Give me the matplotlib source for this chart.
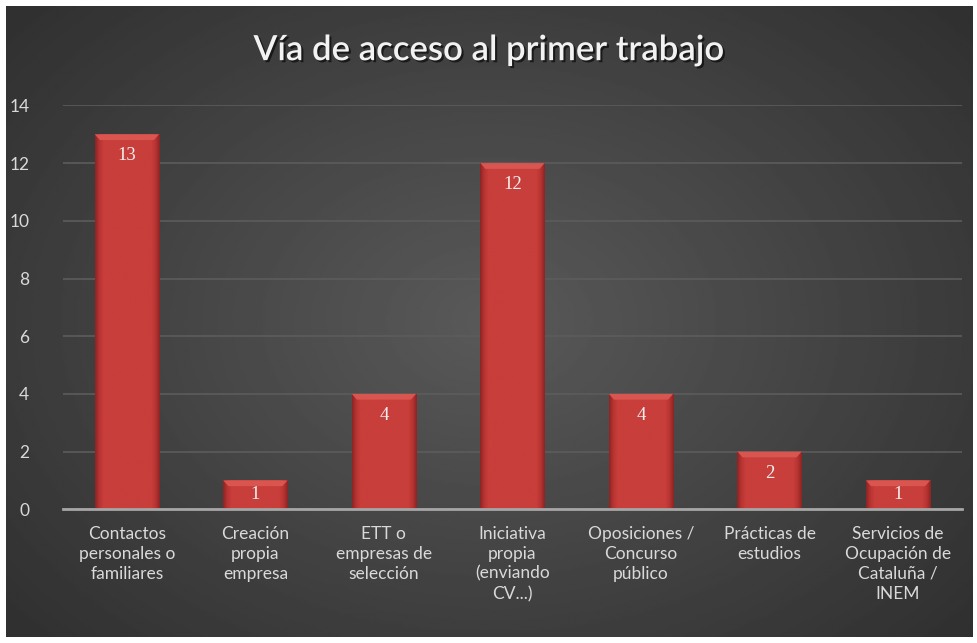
import numpy as np
import matplotlib.pyplot as plt
from matplotlib import patheffects as pe
from matplotlib.colors import LinearSegmentedColormap

categories = ["Contactos\npersonales o\nfamiliares", "Creación\npropia\nempresa",
              "ETT o\nempresas de\nselección", "Iniciativa\npropia\n(enviando\nCV...)",
              "Oposiciones /\nConcurso\npúblico", "Prácticas de\nestudios",
              "Servicios de\nOcupación de\nCataluña /\nINEM"]
values = [13, 1, 4, 12, 4, 2, 1]
title = "Vía de acceso al primer trabajo"

font = ['Lato', 'DejaVu Sans']

fig = plt.figure(figsize=(9.78, 6.43), dpi=100)

# dark radial background
bg = fig.add_axes([0.006, 0.009, 0.988, 0.982])
yy, xx = np.mgrid[-1:1:300j, -1:1:450j]
r = np.sqrt(xx**2 + (yy * 0.9)**2)
bg.imshow(0.35 - 0.17 * np.clip(r, 0, 1.4) / 1.4, cmap='gray', vmin=0, vmax=1,
          aspect='auto', extent=[0, 1, 0, 1])
bg.axis('off')

ax = fig.add_axes([0.064, 0.208, 0.92, 0.628])
ax.patch.set_alpha(0)
x = np.arange(len(values))
bars = ax.bar(x, values, width=0.5, color='#c03a36', zorder=2)
redmap = LinearSegmentedColormap.from_list('bar', ['#8f2626', '#b83432', '#c83e3b'])
grad = np.linspace(0, 1, 60)
grad = 1 - np.abs(grad - 0.5) * 2
grad = np.clip(grad * 4, 0, 1)
for b in bars:
    x0, w, h = b.get_x(), b.get_width(), b.get_height()
    im = ax.imshow(np.tile(grad, (2, 1)), cmap=redmap, vmin=0, vmax=1,
                   extent=[x0, x0 + w, 0, h], aspect='auto', zorder=3)
    im.set_clip_path(b)
    ax.fill([x0, x0 + w, x0 + w - 0.04, x0 + 0.04], [h, h, h - 0.2, h - 0.2],
            color='#d85550', lw=0, zorder=4)
    off = -0.75 if h > 1.5 else -0.5
    ax.text(x0 + w / 2, h + off, str(int(h)), ha='center', va='center',
            color='#eeeeee', fontsize=13.5, family=['Liberation Serif'], zorder=5)

ax.set_xlim(-0.5, len(values) - 0.5)
ax.set_ylim(0, 14)
ax.set_yticks(range(0, 15, 2))
ax.set_xticks(x)
ax.set_xticklabels(categories, fontsize=12.5, color='#d9d9d9', family=font,
                   linespacing=1.3)
ax.tick_params(axis='y', colors='#d9d9d9', labelsize=12.5, length=0, pad=24)
ax.tick_params(axis='x', length=0, pad=12)
for lab in ax.get_yticklabels():
    lab.set_family(font)
ax.yaxis.grid(True, color='#5c5c5c', lw=1.2, zorder=0)
ax.set_axisbelow(True)
for s in ['top', 'right', 'left']:
    ax.spines[s].set_visible(False)
ax.spines['bottom'].set_color('#a6a6a6')
ax.spines['bottom'].set_linewidth(2)
ax.spines['bottom'].set_zorder(6)

fig.text(0.5, 0.922, title, ha='center', va='center', fontsize=25, color='#f2f2f2',
         family=font, weight='semibold',
         path_effects=[pe.withSimplePatchShadow(offset=(1.5, -1.5), shadow_rgbFace='black', alpha=0.6)])

fig.savefig('out.png', dpi=100)
